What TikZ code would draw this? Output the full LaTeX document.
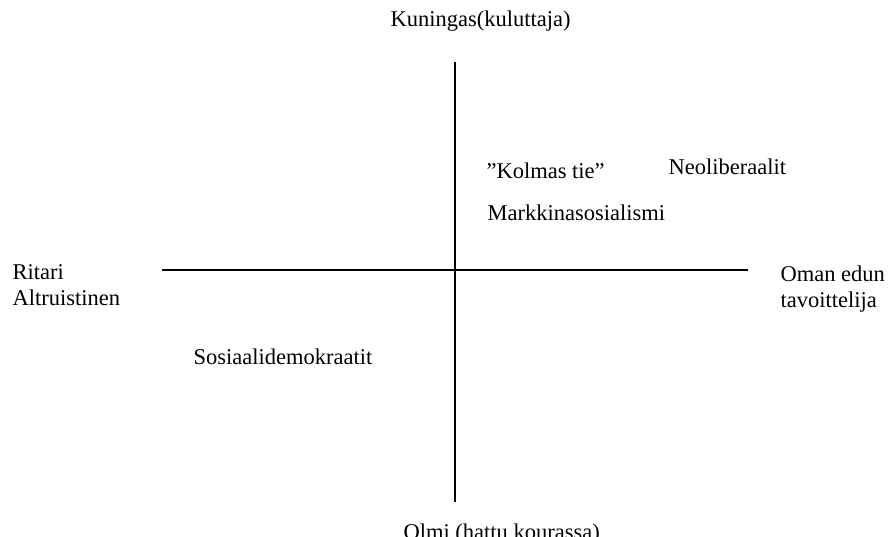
\documentclass[tikz,border=0pt]{standalone}
\usepackage{fontspec}
\setmainfont{Liberation Serif}

\begin{document}
\begin{tikzpicture}[x=1pt,y=-1pt,line width=1.2pt,
    axis text/.style={font=\fontsize{22.5}{26}\selectfont,anchor=base west,inner sep=0pt,align=left}]

            \useasboundingbox (0,0) rectangle (888,537);

            % axes
            \coordinate (top)    at (455,62);
            \coordinate (bottom) at (455,502);
            \coordinate (left)   at (162,270);
            \coordinate (right)  at (748,270);

            \draw (top) -- (bottom);
            \draw (left) -- (right);

            % axis ends (two-line nodes sit on their last line)
            \node[axis text] (king)   at (390,27)  {Kuningas(kuluttaja)};
            \node[axis text] (pawn)   at (403,539) {Olmi (hattu kourassa)};
            \node[axis text] (knight) at (12,305)  {Ritari\\Altruistinen};
            \node[axis text] (self)   at (780,307) {Oman edun\\tavoittelija};

            % positions
            \node[axis text] (third)  at (486,179) {''Kolmas tie''};
            \node[axis text] (neolib) at (668,175) {Neoliberaalit};
            \node[axis text] (market) at (487,221) {Markkinasosialismi};
            \node[axis text] (socdem) at (193,364) {Sosiaalidemokraatit};
        \end{tikzpicture}
\end{document}
